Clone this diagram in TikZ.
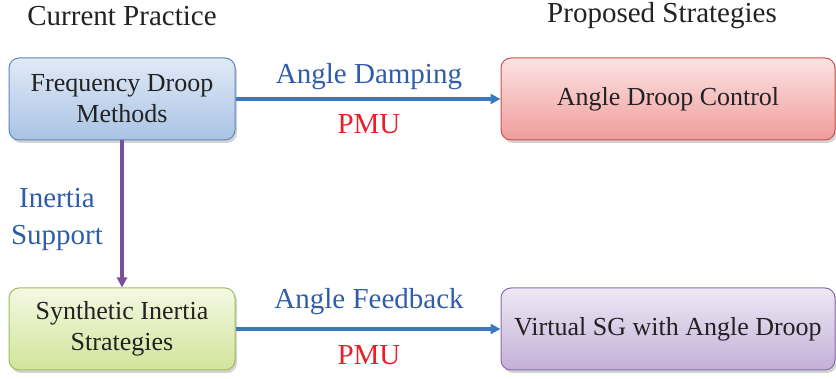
\documentclass[tikz,border=0pt]{standalone}
\usepackage{fontspec}
\setmainfont{Liberation Serif}
\usetikzlibrary{shadows,arrows.meta}
\definecolor{bluebd}{HTML}{5B87C0}
\definecolor{bluetop}{HTML}{E1EAF6}
\definecolor{bluebot}{HTML}{A9C3E5}
\definecolor{redbd}{HTML}{C9514E}
\definecolor{redtop}{HTML}{FCE3E3}
\definecolor{redbot}{HTML}{F09C9B}
\definecolor{greenbd}{HTML}{9EBF5C}
\definecolor{greentop}{HTML}{F4F8E2}
\definecolor{greenbot}{HTML}{D2E49A}
\definecolor{purpbd}{HTML}{8A6DAE}
\definecolor{purptop}{HTML}{EEE8F4}
\definecolor{purpbot}{HTML}{C3B0D7}
\definecolor{linkblue}{HTML}{3B78C0}
\definecolor{linkpurp}{HTML}{7A4FA0}
\definecolor{lblblue}{HTML}{2F5DAA}
\definecolor{lblred}{HTML}{E8202A}
\definecolor{ink}{HTML}{222222}
\tikzset{
  box/.style={rounded corners=10pt, line width=1pt, minimum height=82pt,
    align=center, font=\fontsize{26}{31}\selectfont, text=ink,
    drop shadow={shadow xshift=2pt, shadow yshift=-3pt, opacity=0.35}},
  bluebox/.style={box, draw=bluebd, top color=bluetop, bottom color=bluebot},
  redbox/.style={box, draw=redbd, top color=redtop, bottom color=redbot},
  greenbox/.style={box, draw=greenbd, top color=greentop, bottom color=greenbot},
  purpbox/.style={box, draw=purpbd, top color=purptop, bottom color=purpbot},
  link/.style={line width=3.2pt, -{Triangle[length=10pt,width=10pt]}},
  lbl/.style={font=\fontsize{29}{37}\selectfont, text=lblblue, align=center},
  pmu/.style={font=\fontsize{29}{34}\selectfont, text=lblred},
  title/.style={font=\fontsize{29}{34}\selectfont, text=ink}
}
\begin{document}
\begin{tikzpicture}[x=1pt,y=1pt]
\useasboundingbox (0,0) rectangle (836,379);
% column headings
\node[title] (cp) at (122,363) {Current Practice};
\node[title] (ps) at (662,363) {Proposed Strategies};
% boxes
\node[bluebox, minimum width=226pt] (fdm) at (122,280) {Frequency Droop\\Methods};
\node[redbox, minimum width=334pt] (adc) at (668,280) {Angle Droop Control};
\node[greenbox, minimum width=226pt] (sis) at (122,50) {Synthetic Inertia\\Strategies};
\node[purpbox, minimum width=334pt] (vsg) at (668,50) {Virtual SG with Angle Droop};
% connectors
\draw[link, draw=linkblue] (fdm.east) -- (adc.west);
\draw[link, draw=linkblue] (sis.east) -- (vsg.west);
\draw[link, draw=linkpurp] (fdm.south) -- (sis.north);
% labels
\node[lbl] (ad) at (369,302) {Angle Damping};
\node[pmu] (pmu1) at (369,255) {PMU};
\node[lbl] (af) at (369,77) {Angle Feedback};
\node[pmu] (pmu2) at (369,24) {PMU};
\node[lbl] (is) at (57,160) {Inertia\\Support};
\end{tikzpicture}
\end{document}
